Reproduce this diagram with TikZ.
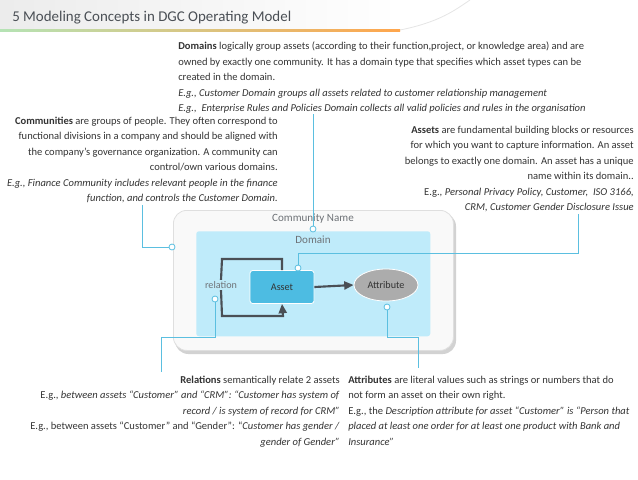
\documentclass[tikz,border=0pt]{standalone}
\usepackage{fontspec}
\setmainfont{Carlito}
\newfontfamily\titlefont{Carlito}
\usetikzlibrary{arrows.meta,shapes.geometric}
\definecolor{cl}{HTML}{5BBFE0}
\definecolor{dk}{HTML}{4A4F55}
\definecolor{dombg}{HTML}{BFEBFA}
\definecolor{assetc}{HTML}{4DBCE2}
\definecolor{txt}{HTML}{333333}
\begin{document}
\begin{tikzpicture}[x=0.75pt,y=-0.75pt,
  t/.style={font=\fontsize{7.9}{9}\selectfont,text=txt,inner sep=0pt},
  tl/.style={t,anchor=base west},
  tr/.style={t,anchor=base east},
  call/.style={draw=cl,line width=0.7pt},
  dot/.style={circle,draw=cl,fill=white,line width=0.6pt,inner sep=0pt,minimum size=4.5pt},
  conn/.style={draw=dk,line width=1.6pt}]
\useasboundingbox (0,0) rectangle (638,479);
% title band
\shade[left color=white!85!gray,right color=white] (0,0) rectangle (400,30);
\fill[white] (400,30) .. controls (440,22) and (455,10) .. (470,0) -- (638,0) -- (638,30) -- cycle;
\draw[white!80!gray,line width=0.6pt] (400,30) .. controls (440,22) and (455,10) .. (470,0);
\shade[left color=green!45!gray!40,right color=orange!70] (0,29.5) rectangle (400,31);
\node[font=\titlefont\fontsize{11.2}{14}\selectfont,text=dk,anchor=base west,inner sep=0pt] (title) at (12,21) {5 Modeling Concepts in DGC Operating Model};
% domains text
\node[tl] (d1) at (178,49) {\textbf{Domains} logically group assets (according to their function,project, or knowledge area) and are};
\node[tl] (d2) at (178,65) {owned by exactly one community. It has a domain type that specifies which asset types can be};
\node[tl] (d3) at (178,80) {created in the domain.};
\node[tl] (d4) at (178,96) {\itshape E.g., Customer Domain groups all assets related to customer relationship management};
\node[tl] (d5) at (178,111) {\itshape E.g., \ Enterprise Rules and Policies Domain collects all valid policies and rules in the organisation};
% communities
\node[tr] (c1) at (278,124) {\textbf{Communities} are groups of people. They often correspond to};
\node[tr] (c2) at (278,139) {functional divisions in a company and should be aligned with};
\node[tr] (c3) at (278,155) {the company's governance organization. A community can};
\node[tr] (c4) at (278,170) {control/own various domains.};
\node[tr] (c5) at (278,186) {\itshape E.g., Finance Community includes relevant people in the finance};
\node[tr] (c6) at (278,201) {\itshape function, and controls the Customer Domain.};
% assets
\node[tr] (a1) at (634,133) {\textbf{Assets} are fundamental building blocks or resources};
\node[tr] (a2) at (634,148) {for which you want to capture information. An asset};
\node[tr] (a3) at (634,164) {belongs to exactly one domain. An asset has a unique};
\node[tr] (a4) at (634,179) {name within its domain..};
\node[tr] (a5) at (634,195) {E.g., \textit{Personal Privacy Policy, Customer, \ ISO 3166,}};
\node[tr] (a6) at (634,210) {\itshape CRM, Customer Gender Disclosure Issue};
% relations
\node[tr] (r1) at (340,383) {\textbf{Relations} semantically relate 2 assets};
\node[tr] (r2) at (340,398) {E.g., \textit{between assets ``Customer'' and ``CRM'': ``Customer has system of}};
\node[tr] (r3) at (340,414) {\itshape record / is system of record for CRM''};
\node[tr] (r4) at (340,429) {E.g., between assets ``Customer'' and ``Gender'': ``\textit{Customer has gender /}};
\node[tr] (r5) at (340,445) {\itshape gender of Gender''};
% attributes
\node[tl] (t1) at (348,383) {\textbf{Attributes} are literal values such as strings or numbers that do};
\node[tl] (t2) at (348,398) {not form an asset on their own right.};
\node[tl] (t3) at (348,414) {E.g., the \textit{Description attribute for asset ``Customer'' is ``Person that}};
\node[tl] (t4) at (348,429) {\itshape placed at least one order for at least one product with Bank and};
\node[tl] (t5) at (348,445) {\itshape Insurance''};
% community box
\fill[gray!35,rounded corners=10pt] (175,213) rectangle (456,354);
\node[draw=gray!25,fill=white!95!gray,rounded corners=10pt,minimum width=210pt,minimum height=105pt,anchor=north west,line width=0.6pt] (comm) at (173,210) {};
\node[font=\fontsize{8.3}{9}\selectfont,text=dk!80,inner sep=0pt] (commname) at (313,219) {Community Name};
\node[fill=dombg,minimum width=175.5pt,minimum height=78.75pt,anchor=north west,inner sep=0pt,rounded corners=2pt] (dom) at (196,231) {};
\node[font=\fontsize{8.3}{9}\selectfont,text=dk!80,inner sep=0pt] (domname) at (313,240) {Domain};
\node[fill=assetc,draw=white,line width=0.6pt,rounded corners=2pt,minimum width=48pt,minimum height=24.75pt,font=\fontsize{7.6}{9}\selectfont,text=black!80] (asset) at (282,287) {Asset};
\node[ellipse,fill=gray!65,draw=white,line width=0.6pt,minimum width=48pt,minimum height=24pt,inner sep=0pt,font=\fontsize{7.6}{9}\selectfont,text=black!80] (attr) at (386,285) {Attribute};
\node[font=\fontsize{7.6}{9}\selectfont,text=dk!80,inner sep=1pt] (rel) at (221,285) {relation};
\draw[conn,-{Triangle[length=7pt,width=6pt]}] (asset.east) -- (attr.west);
\coordinate (l1) at (282,259);
\coordinate (l2) at (222,259);
\coordinate (l3) at (222,316);
\coordinate (l4) at (283,316);
\draw[conn] (asset.north) -- (l1) -- (l2) -- (rel.north);
\draw[conn,-{Triangle[length=7pt,width=6pt]}] (rel.south) -- (l3) -- (l4) -- (asset.south);
% callouts
\node[dot] (pd) at (313,229) {};
\node[dot] (pc) at (172,247) {};
\node[dot] (pa) at (298,268) {};
\node[dot] (pr) at (215,299) {};
\node[dot] (pt) at (387,307) {};
\coordinate (kd) at (313,114);
\coordinate (kc1) at (142,247);
\coordinate (kc2) at (142,205);
\coordinate (ka1) at (298,253);
\coordinate (ka2) at (578,253);
\coordinate (ka3) at (578,214);
\coordinate (kr1) at (215,337);
\coordinate (kr2) at (161,337);
\coordinate (kr3) at (161,372);
\coordinate (kt1) at (387,337);
\coordinate (kt2) at (418,337);
\coordinate (kt3) at (418,368);
\draw[call] (pd) -- (kd);
\draw[call] (pc) -- (kc1) -- (kc2);
\draw[call] (pa) -- (ka1) -- (ka2) -- (ka3);
\draw[call] (pr) -- (kr1) -- (kr2) -- (kr3);
\draw[call] (pt) -- (kt1) -- (kt2) -- (kt3);
\end{tikzpicture}
\end{document}
